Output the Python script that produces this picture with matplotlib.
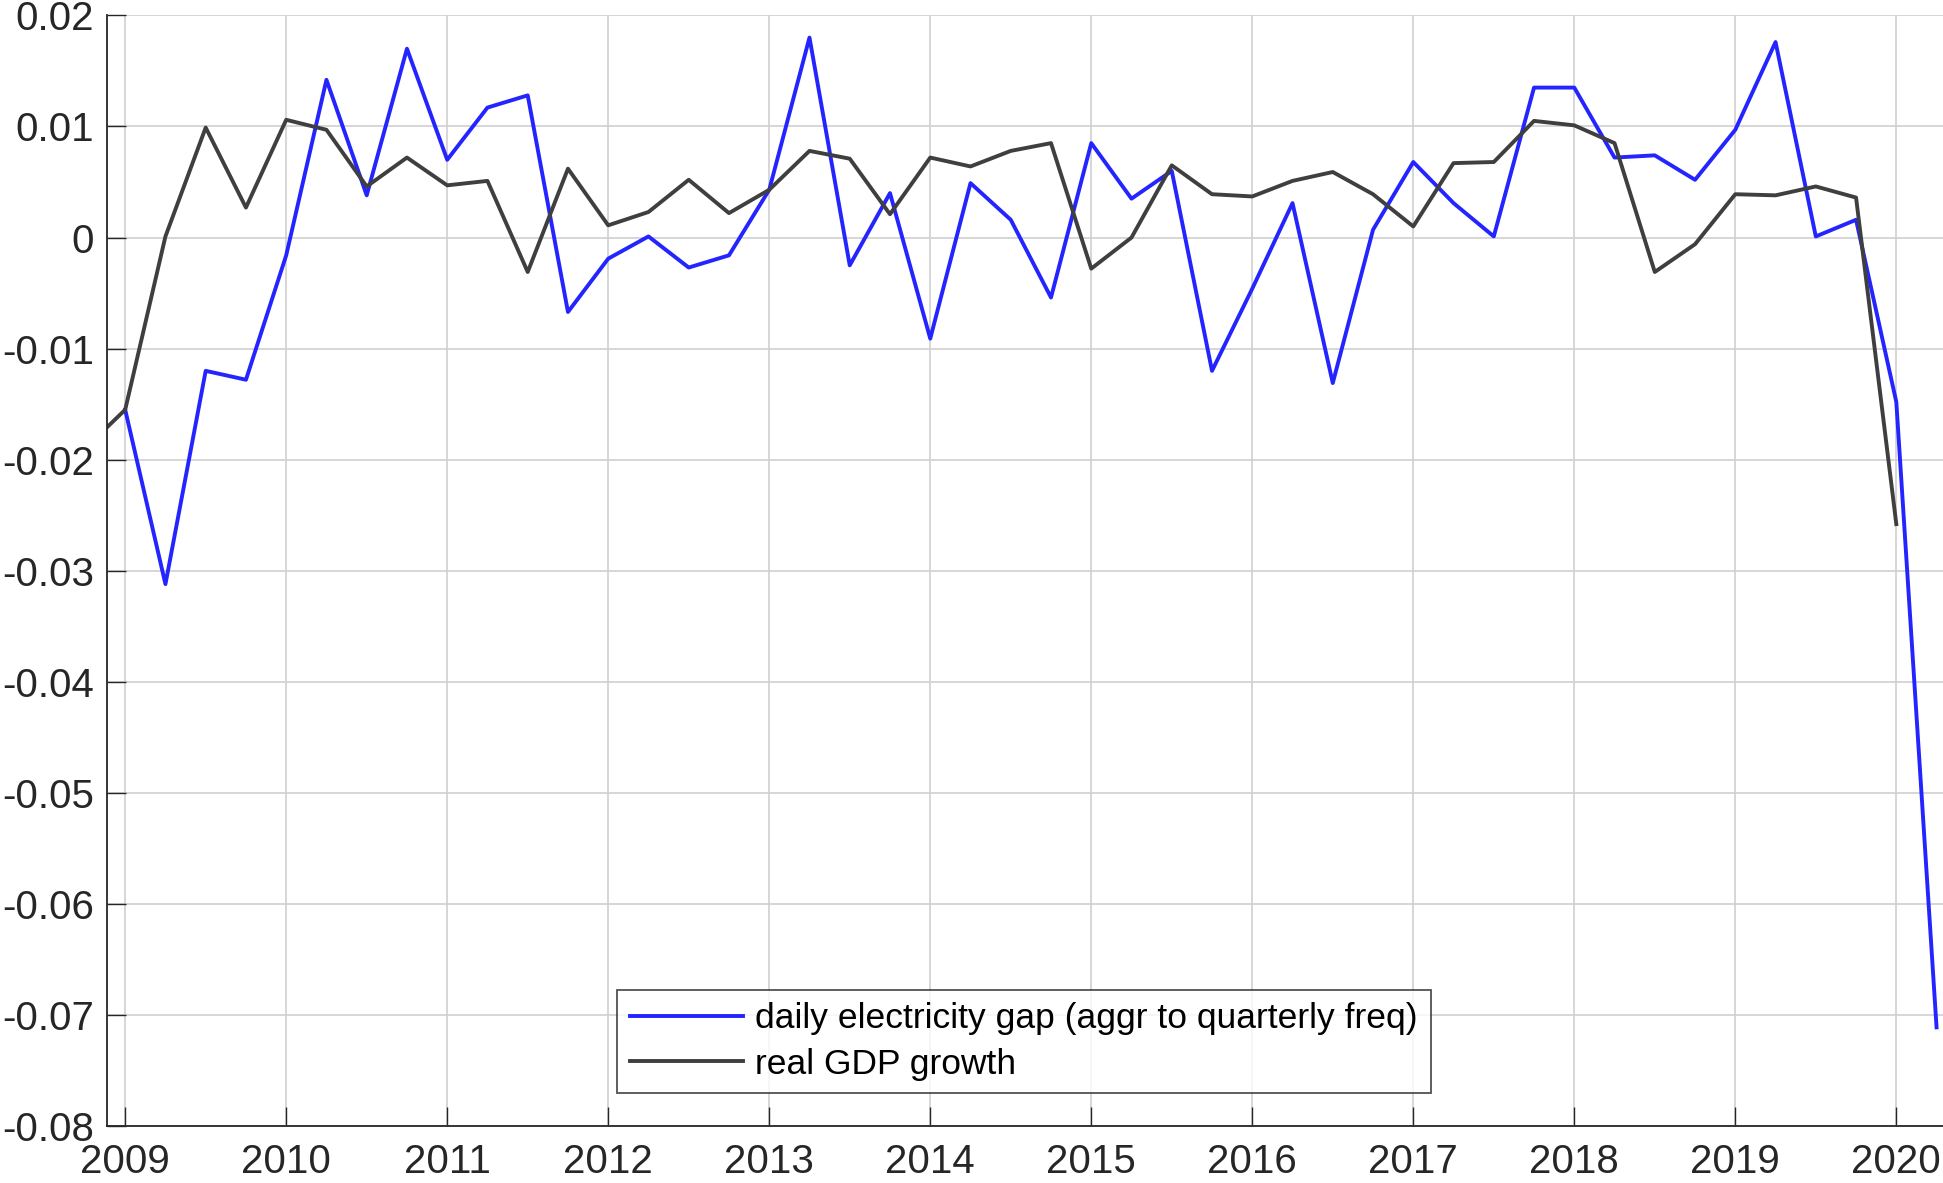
import matplotlib
matplotlib.use("Agg")
import matplotlib.pyplot as plt

plt.rcParams["font.family"] = ["Liberation Sans", "DejaVu Sans"]
plt.rcParams["axes.unicode_minus"] = False

# quarterly dates (year + quarter offset)
elec_dates = [2009 + 0.25 * i for i in range(46)]
gdp_dates = [2008.75 + 0.25 * i for i in range(46)]

elec_gap = [
    -0.0155, -0.0312, -0.0120, -0.0128, -0.0016, 0.0142, 0.0038, 0.0170,
    0.0070, 0.0117, 0.0128, -0.0067, -0.0019, 0.0001, -0.0027, -0.0016,
    0.0043, 0.0180, -0.0025, 0.0040, -0.0091, 0.0049, 0.0016, -0.0054,
    0.0085, 0.0035, 0.0060, -0.0120, -0.0046, 0.0031, -0.0131, 0.0007,
    0.0068, 0.0031, 0.0001, 0.0135, 0.0135, 0.0072, 0.0074, 0.0052,
    0.0097, 0.0176, 0.0001, 0.0016, -0.0148, -0.0711,
]
gdp_growth = [
    -0.0190, -0.0155, 0.0001, 0.0099, 0.0027, 0.0106, 0.0097, 0.0046,
    0.0072, 0.0047, 0.0051, -0.0031, 0.0062, 0.0011, 0.0023, 0.0052,
    0.0022, 0.0043, 0.0078, 0.0071, 0.0021, 0.0072, 0.0064, 0.0078,
    0.0085, -0.0028, 0.0000, 0.0065, 0.0039, 0.0037, 0.0051, 0.0059,
    0.0039, 0.0010, 0.0067, 0.0068, 0.0105, 0.0101, 0.0085, -0.0031,
    -0.0006, 0.0039, 0.0038, 0.0046, 0.0036, -0.0258,
]
year_ticks = list(range(2009, 2021))
y_ticks = [-0.08, -0.07, -0.06, -0.05, -0.04, -0.03, -0.02, -0.01, 0, 0.01, 0.02]
y_labels = ["-0.08", "-0.07", "-0.06", "-0.05", "-0.04", "-0.03", "-0.02",
            "-0.01", "0", "0.01", "0.02"]

fig = plt.figure(figsize=(19.43, 11.83), dpi=100)
ax = fig.add_axes([0.0549, 0.048, 0.9451, 0.939])

ax.plot(elec_dates, elec_gap, color="#2424ff", lw=2.8,
        label="daily electricity gap (aggr to quarterly freq)")
ax.plot(gdp_dates, gdp_growth, color="#3f3f3f", lw=2.8,
        label="real GDP growth")

ax.set_xlim(2008.885, 2020.29)
ax.set_ylim(-0.08, 0.02)
ax.set_xticks(year_ticks)
ax.set_xticklabels([str(y) for y in year_ticks])
ax.set_yticks(y_ticks)
ax.set_yticklabels(y_labels)

ax.grid(True, color="#d0d0d0", lw=1.2)
ax.set_axisbelow(True)
for s in ["top", "right"]:
    ax.spines[s].set_visible(False)
for s in ["left", "bottom"]:
    ax.spines[s].set_color("#262626")
    ax.spines[s].set_linewidth(1.3)
ax.tick_params(direction="in", length=14, width=1.0, colors="#262626",
               labelsize=29)
ax.tick_params(axis="x", pad=12)
ax.tick_params(axis="y", pad=9)

leg = ax.legend(loc="lower left", bbox_to_anchor=(0.278, 0.0297, 0.443, 0.0927),
                mode="expand", fontsize=25.5, handlelength=3.2, frameon=True,
                fancybox=False, borderaxespad=0, borderpad=0.35,
                labelspacing=0.35, handletextpad=0.35)
leg.get_frame().set_edgecolor("#262626")
leg.get_frame().set_linewidth(1.3)

fig.savefig("out.png", dpi=100)
plt.close(fig)
